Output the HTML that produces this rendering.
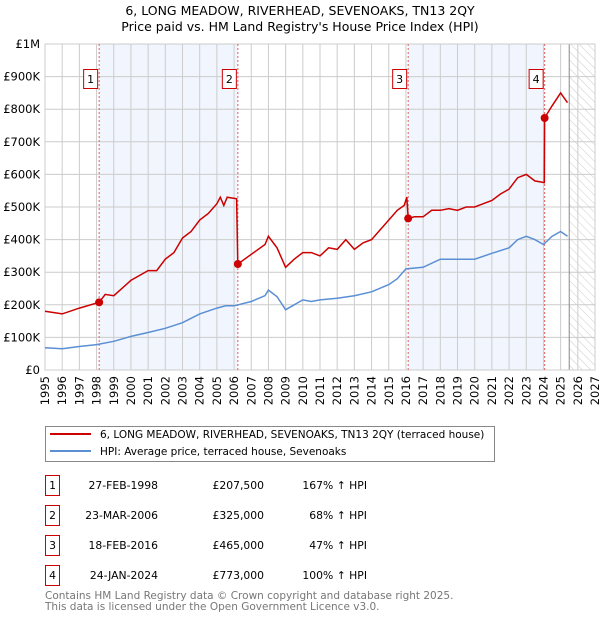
<!DOCTYPE html>
<html><head><meta charset="utf-8"><style>
body{margin:0;background:#fff;font-family:"DejaVu Sans","Liberation Sans",sans-serif;}
svg text{font-family:"DejaVu Sans","Liberation Sans",sans-serif;}
</style></head><body>
<svg id="c" width="600" height="620" viewBox="0 0 600 620" xmlns="http://www.w3.org/2000/svg">
<defs><pattern id="hatch" width="6" height="6" patternUnits="userSpaceOnUse" patternTransform="rotate(-45)"><line x1="0" y1="0" x2="0" y2="6" stroke="#ccc" stroke-width="1"/></pattern></defs>
<text x="300" y="15" text-anchor="middle" font-size="12.5">6, LONG MEADOW, RIVERHEAD, SEVENOAKS, TN13 2QY</text>
<text x="300" y="31" text-anchor="middle" font-size="12.5">Price paid vs. HM Land Registry's House Price Index (HPI)</text>
<g id="plot"></g>
<g>
<rect x="45.5" y="426.5" width="449" height="35" fill="#fff" stroke="#888"/>
<line x1="50" y1="434" x2="91" y2="434" stroke="#cc0000" stroke-width="2"/>
<text x="100" y="438" font-size="10.5">6, LONG MEADOW, RIVERHEAD, SEVENOAKS, TN13 2QY (terraced house)</text>
<line x1="50" y1="451" x2="91" y2="451" stroke="#5b8fd4" stroke-width="2"/>
<text x="100" y="455" font-size="10.5">HPI: Average price, terraced house, Sevenoaks</text>
</g>
<g id="table" font-size="10.8"></g>
<text x="45" y="599" font-size="10.5" fill="#777">Contains HM Land Registry data © Crown copyright and database right 2025.</text>
<text x="45" y="610" font-size="10.5" fill="#777">This data is licensed under the Open Government Licence v3.0.</text>
</svg>
<script>
const hpiYears=[1995,1996,1997,1998,1999,2000,2001,2002,2003,2004,2005,2005.5,2006,2007,2007.8,2008,2008.5,2009,2009.5,2010,2010.5,2011,2012,2013,2014,2015,2015.5,2016,2017,2018,2019,2020,2021,2022,2022.5,2023,2023.5,2024,2024.5,2025,2025.4];
const hpiValues=[68,65,72,78,88,103,115,128,145,172,190,197,197,210,228,245,225,185,200,215,210,215,220,228,240,262,280,310,315,340,340,340,358,375,400,410,400,385,410,425,410];
const priceYears=[1995,1996,1997,1998.15,1998.5,1999,2000,2001,2001.5,2002,2002.5,2003,2003.5,2004,2004.5,2005,2005.2,2005.4,2005.6,2006.15,2006.22,2007,2007.8,2008,2008.5,2009,2009.5,2010,2010.5,2011,2011.5,2012,2012.5,2013,2013.5,2014,2014.5,2015,2015.5,2015.9,2016.05,2016.13,2016.5,2017,2017.5,2018,2018.5,2019,2019.5,2020,2020.5,2021,2021.5,2022,2022.5,2023,2023.5,2024.05,2024.07,2024.5,2025,2025.4];
const priceValues=[180,172,190,207.5,232,228,275,305,305,340,360,405,425,460,480,510,530,505,530,525,325,355,385,410,375,315,340,360,360,350,375,370,400,370,390,400,430,460,490,505,530,465,470,470,490,490,495,490,500,500,510,520,540,555,590,600,580,575,773,810,850,820];
const saleYears=[1998.15,2006.22,2016.13,2024.07];
const saleValues=[207.5,325,465,773];
const saleLabels=["1","2","3","4"];
const saleDates=["27-FEB-1998","23-MAR-2006","18-FEB-2016","24-JAN-2024"];
const salePrices=["£207,500","£325,000","£465,000","£773,000"];
const saleHpi=["167% ↑ HPI","68% ↑ HPI","47% ↑ HPI","100% ↑ HPI"];
const yTicks=[0,100,200,300,400,500,600,700,800,900,1000];
const yTickLabels=["£0","£100K","£200K","£300K","£400K","£500K","£600K","£700K","£800K","£900K","£1M"];
const xTicks=[1995,1996,1997,1998,1999,2000,2001,2002,2003,2004,2005,2006,2007,2008,2009,2010,2011,2012,2013,2014,2015,2016,2017,2018,2019,2020,2021,2022,2023,2024,2025,2026,2027];

const NS="http://www.w3.org/2000/svg";
const L=45,R=595,T=44,B=370,X0=1995,X1=2027;
const xs=v=>L+(v-X0)/(X1-X0)*(R-L);
const ys=v=>B-v/1000*(B-T);
const g=document.getElementById('plot');
function mk(tag,attrs,parent){const e=document.createElementNS(NS,tag);for(const k in attrs)e.setAttribute(k,attrs[k]);(parent||g).appendChild(e);return e;}

let e;
e=mk('rect',{x:xs(saleYears[0]),y:T,width:xs(saleYears[1])-xs(saleYears[0]),height:B-T,fill:'#eef3fc',opacity:0.8});


e=mk('rect',{x:xs(saleYears[2]),y:T,width:xs(saleYears[3])-xs(saleYears[2]),height:B-T,fill:'#eef3fc',opacity:0.8});


e=mk('rect',{x:xs(2025.5),y:T,width:R-xs(2025.5),height:B-T,fill:'url(#hatch)'});



yTicks.forEach((t,i)=>{
  e=mk('line',{x1:L,x2:R,y1:ys(t),y2:ys(t),stroke:'#ccc','stroke-width':1});
  
  
  e=mk('text',{x:L-5,y:ys(t)+4,'text-anchor':'end','font-size':11.5});
  e.textContent=yTickLabels[i];
  
  
});
xTicks.forEach(t=>{
  e=mk('line',{x1:xs(t),x2:xs(t),y1:T,y2:B,stroke:'#ccc','stroke-width':1});
  
  
  e=mk('text',{x:0,y:0,'font-size':11.5,'text-anchor':'end',transform:`translate(${xs(t)+4},${B+6}) rotate(-90)`});
  e.textContent=t;
  
  
});
e=mk('line',{x1:xs(2025.5),x2:xs(2025.5),y1:T,y2:B,stroke:'#888','stroke-width':1});


e=mk('rect',{x:L,y:T,width:R-L,height:B-T,fill:'none',stroke:'#ccc'});



saleYears.forEach((s,i)=>{
  e=mk('line',{x1:xs(s),x2:xs(s),y1:T,y2:B,stroke:'#e06060','stroke-width':1,'stroke-dasharray':'2,2'});
  
  
  e=mk('rect',{x:xs(s)-15.5,y:69.5,width:14,height:19,fill:'#fff',stroke:'#cc0000'});
  
  
  e=mk('text',{x:xs(s)-8.5,y:83,'text-anchor':'middle','font-size':11});
  e.textContent=saleLabels[i];
  
  
});

const path=(xa,va)=>xa.map((x,i)=>(i?'L':'M')+xs(x).toFixed(1)+','+ys(va[i]).toFixed(1)).join('');
e=mk('path',{d:path(hpiYears,hpiValues),fill:'none',stroke:'#5b8fd4','stroke-width':1.5});


e=mk('path',{d:path(priceYears,priceValues),fill:'none',stroke:'#cc0000','stroke-width':1.5});


saleYears.forEach((s,i)=>{
  e=mk('circle',{cx:xs(s),cy:ys(saleValues[i]),r:4,fill:'#cc0000'});
  
  
});

const tb=document.getElementById('table');
saleLabels.forEach((lab,i)=>{
  const y=484+i*30;
  e=mk('rect',{x:45.5,y:y-8.5,width:14,height:20,fill:'#fff',stroke:'#cc0000'},tb);
  
  
  e=mk('text',{x:52.5,y:y+5,'text-anchor':'middle'},tb);e.textContent=lab;
  
  
  e=mk('text',{x:158,y:y+5,'text-anchor':'end'},tb);e.textContent=saleDates[i];
  
  
  e=mk('text',{x:264,y:y+5,'text-anchor':'end'},tb);e.textContent=salePrices[i];
  
  
  e=mk('text',{x:367,y:y+5,'text-anchor':'end'},tb);e.textContent=saleHpi[i];
  
  
});
</script>
</body></html>
